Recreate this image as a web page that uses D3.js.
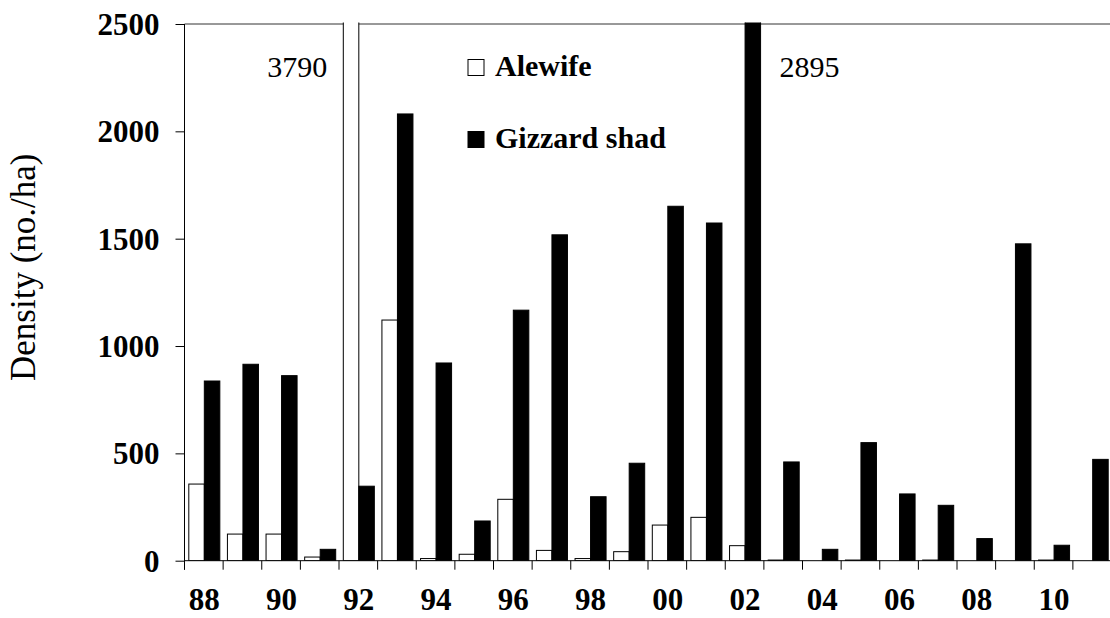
<!DOCTYPE html>
<html>
<head>
<meta charset="utf-8">
<script src="https://cdn.jsdelivr.net/npm/d3@7"></script>
<style>
	body { margin: 0; background: #fff; }
	text { font-family: "Liberation Serif", "Times New Roman", serif; fill: #000; }
</style>
</head>
<body>
<div id="chart"></div>
<script>
// survey years (two digit labels) and densities (no./ha)
var years = ['88','89','90','91','92','93','94','95','96','97','98','99',
	'00','01','02','03','04','05','06','07','08','09','10','11'];
var alewife = [357,124,124,17,3790,1121,10,30,286,48,10,42,
	166,202,70,3,0,3,0,3,0,0,3,0];
var gizzard = [837,915,862,53,347,2081,921,185,1167,1518,298,454,
	1651,1573,2895,460,53,550,311,258,103,1476,72,472];
var yTicks = [0,500,1000,1500,2000,2500];
var series = ['Alewife','Gizzard shad'];
var fills = ['#fff','#000'];

var width = 1110, height = 618;
var plotLeft = 185, plotRight = 1112, plotTop = 24, plotBottom = 560.7;

var svg = d3.select('#chart')
	.append('svg')
	.attr('width', width)
	.attr('height', height);

var x0 = d3.scaleBand()
	.domain(years)
	.range([plotLeft, plotRight])
	.padding(0);

var x1 = d3.scaleBand()
	.domain(series)
	.range([0, x0.bandwidth()])
	.paddingInner(0)
	.paddingOuter(0.245);

var y = d3.scaleLinear()
	.domain([0, 2500])
	.range([plotBottom, plotTop]);

// build rows for the bars
var rows = [];
years.forEach(function(yr, i){
	rows.push({year: yr, key: series[0], value: alewife[i]});
	rows.push({year: yr, key: series[1], value: gizzard[i]});
});

// plot border along the top (bars drawn over it)
svg.append('line')
	.attr('x1', plotLeft - 0.5).attr('x2', width)
	.attr('y1', y(2500)).attr('y2', y(2500))
	.attr('stroke', '#333').attr('stroke-width', 1);

svg.append('clipPath')
	.attr('id', 'plotclip')
	.append('rect')
	.attr('x', plotLeft - 2).attr('y', plotTop - 1.5)
	.attr('width', width).attr('height', plotBottom - plotTop + 1.5);

svg.append('g')
	.attr('clip-path', 'url(#plotclip)')
	.selectAll('rect')
	.data(rows.filter(function(d){ return d.value > 0; }))
	.enter()
	.append('rect')
	.attr('x', function(d){ return x0(d.year) + x1(d.key); })
	.attr('width', x1.bandwidth())
	.attr('y', function(d){ return y(d.value); })
	.attr('height', function(d){ return y(0) - y(d.value); })
	.attr('fill', function(d){ return fills[series.indexOf(d.key)]; })
	.attr('stroke', '#000')
	.attr('stroke-width', 1);

// values of the off-scale bars
svg.append('text')
	.attr('x', x0('92') + x1('Alewife') - 16)
	.attr('y', 77)
	.attr('text-anchor', 'end')
	.style('font-size', '30px')
	.text(alewife[years.indexOf('92')]);

svg.append('text')
	.attr('x', x0('02') + x1('Gizzard shad') + x1.bandwidth() + 19)
	.attr('y', 77)
	.style('font-size', '30px')
	.text(gizzard[years.indexOf('02')]);

// y axis
var yAxis = d3.axisLeft(y)
	.tickValues(yTicks)
	.tickSize(9)
	.tickPadding(16)
	.tickFormat(d3.format('d'));

var gy = svg.append('g')
	.attr('transform', 'translate(' + (plotLeft - 0.5) + ',0)')
	.call(yAxis);
gy.select('.domain').attr('d', 'M0,' + y(2500) + 'V' + (plotBottom + 9));
gy.selectAll('line').attr('stroke', '#000');
gy.selectAll('text')
	.style('font-size', '31px')
	.style('font-weight', 'bold')
	.style('font-family', '"Liberation Serif", "Times New Roman", serif')
	.attr('dy', '0.34em');

// x axis: ticks on band edges, labels on every other year
var gx = svg.append('g');
gx.append('line')
	.attr('x1', plotLeft - 0.5).attr('x2', width)
	.attr('y1', plotBottom).attr('y2', plotBottom)
	.attr('stroke', '#000');
var edges = years.map(function(d){ return x0(d); });
gx.selectAll('line.tick')
	.data(edges)
	.enter()
	.append('line')
	.attr('class', 'tick')
	.attr('x1', function(d){ return d - 0.5; })
	.attr('x2', function(d){ return d - 0.5; })
	.attr('y1', plotBottom).attr('y2', plotBottom + 9)
	.attr('stroke', '#000');
gx.selectAll('text')
	.data(years.filter(function(d, i){ return i % 2 == 0; }))
	.enter()
	.append('text')
	.attr('x', function(d){ return x0(d) + x0.bandwidth() / 2; })
	.attr('y', 610)
	.attr('text-anchor', 'middle')
	.style('font-size', '31px')
	.style('font-weight', 'bold')
	.text(function(d){ return d; });

// y axis title
svg.append('text')
	.attr('transform', 'translate(35,381) rotate(-90)')
	.style('font-size', '35px')
	.text('Density (no./ha)');

// legend
var legend = svg.append('g')
	.selectAll('g')
	.data(series)
	.enter()
	.append('g')
	.attr('transform', function(d, i){ return 'translate(468,' + (59.5 + i * 72) + ')'; });
legend.append('rect')
	.attr('width', 16).attr('height', 16)
	.attr('fill', function(d, i){ return fills[i]; })
	.attr('stroke', '#000');
legend.append('text')
	.attr('x', 27)
	.attr('y', 16.5)
	.style('font-size', '30px')
	.style('font-weight', 'bold')
	.text(function(d){ return d; });
</script>
</body>
</html>
